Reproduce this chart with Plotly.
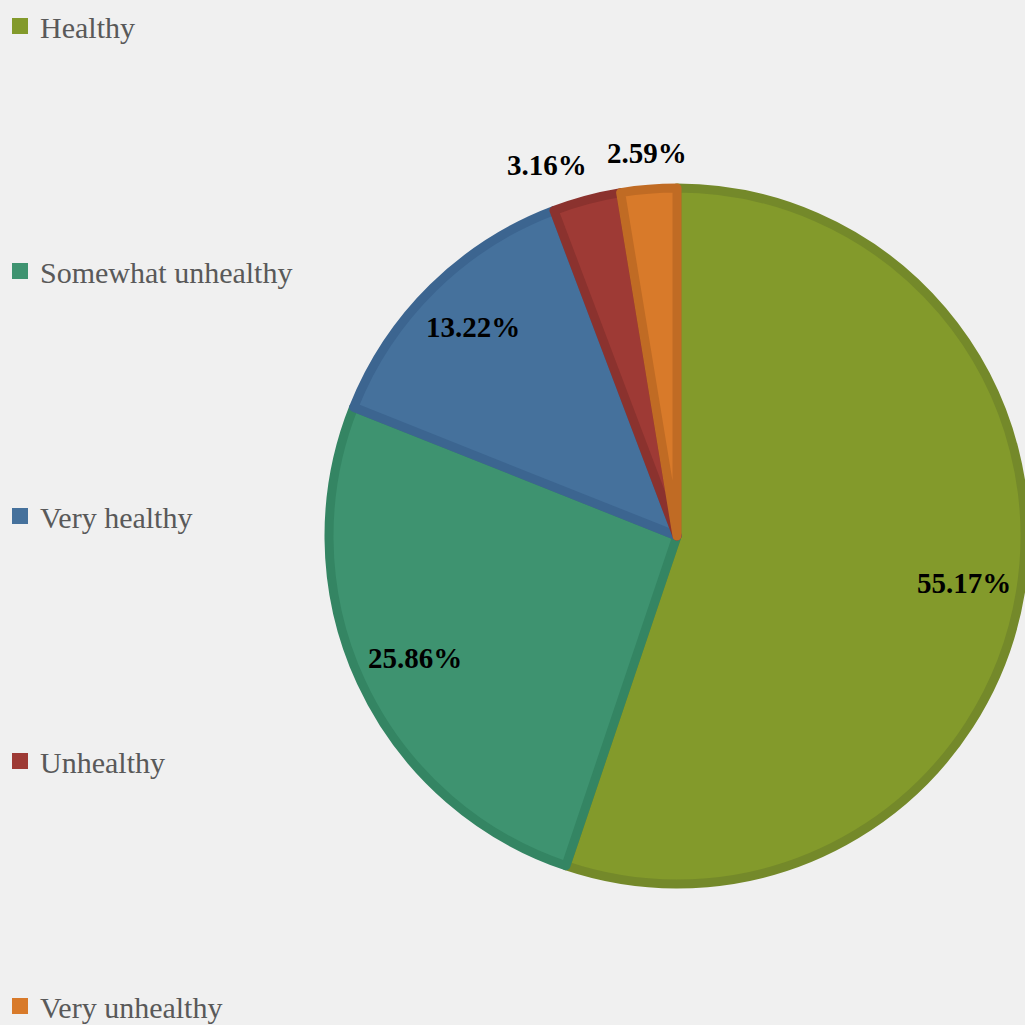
import math
import plotly.graph_objects as go

# Survey results: self-rated health
categories = ["Healthy", "Somewhat unhealthy", "Very healthy", "Unhealthy", "Very unhealthy"]
shares = [55.17, 25.86, 13.22, 3.16, 2.59]
fill_colors = ["#839a2b", "#3e9370", "#45719c", "#9e3a35", "#d87a2a"]
edge_colors = ["#74892a", "#348563", "#3c6590", "#8b322e", "#c06b24"]

# Label placement: radial factor and sideways nudge (px) per slice
label_radius = [0.83, 0.83, 0.84, 1.10, 1.10]
label_nudge = [0, 0, 0, -32, 0]

W = H = 1025
cx, cy, R = 678, 536, 349  # pie centre and radius in pixels

fig = go.Figure()

fig.add_trace(go.Pie(
    labels=categories,
    values=shares,
    sort=False,
    direction="clockwise",
    marker=dict(colors=fill_colors, line=dict(color=edge_colors, width=9)),
    textinfo="none",
    hoverinfo="label+percent",
    showlegend=False,
    domain=dict(x=[(cx - R) / W, min(1.0, (cx + R) / W)], y=[1 - (cy + R) / H, 1 - (cy - R) / H]),
))

# Legend entries, one group each so they can be spread down the left side
for name, col in zip(categories, fill_colors):
    fig.add_trace(go.Scatter(
        x=[None], y=[None], mode="markers", name=name, legendgroup=name,
        marker=dict(symbol="square", size=16, color=col),
    ))

# Percentage labels placed along each slice's bisector
total = sum(shares)
start = 0.0
for v, rf, nudge in zip(shares, label_radius, label_nudge):
    mid = start + v / total * 360 / 2
    start += v / total * 360
    th = math.radians(mid)
    px = cx + R * rf * math.sin(th) + nudge
    py = cy - R * rf * math.cos(th)
    fig.add_annotation(
        x=px / W, y=1 - py / H, xref="paper", yref="paper",
        text=f"<b>{v:.2f}%</b>", showarrow=False,
        font=dict(family="Liberation Serif", size=29, color="#000000"),
        xanchor="center", yanchor="middle",
    )

fig.update_layout(
    width=W, height=H,
    margin=dict(l=0, r=0, t=0, b=0),
    paper_bgcolor="#f0f0f0",
    plot_bgcolor="#f0f0f0",
    xaxis=dict(visible=False),
    yaxis=dict(visible=False),
    legend=dict(
        x=0.0, y=1.0, xanchor="left", yanchor="top",
        font=dict(family="Liberation Serif", size=30, color="#595959"),
        tracegroupgap=203,
        itemwidth=30,
        maxheight=2000,
        bgcolor="rgba(0,0,0,0)",
    ),
)

fig.write_html("out.html")
